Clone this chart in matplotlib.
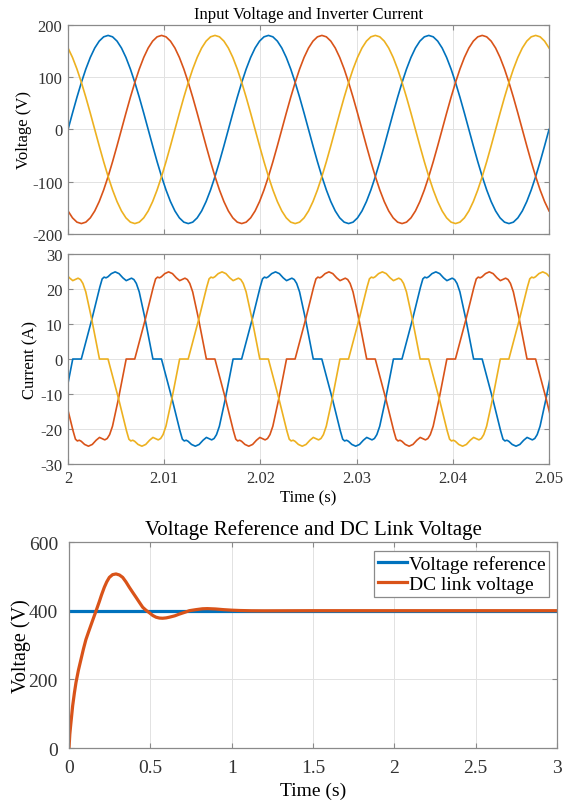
import matplotlib
matplotlib.use('Agg')
import matplotlib.pyplot as plt
import numpy as np

plt.rcParams['font.family'] = ['Liberation Serif', 'DejaVu Serif']
plt.rcParams['axes.unicode_minus'] = False

## Couleurs (MATLAB)
c_blue = '#0072BD'
c_orange = '#D95319'
c_yellow = '#EDB120'

## Données

period_ms = 1000.0 / 60.0     # 60 Hz
t_start, t_end = 2.0, 2.05

# phase A voltage over one period, every 10 degrees (V)
va_period = [0, 31.3, 61.6, 90, 115.7, 137.9, 155.9, 169.1, 177.3,
             180, 177.3, 169.1, 155.9, 137.9, 115.7, 90, 61.6, 31.3,
             0, -31.3, -61.6, -90, -115.7, -137.9, -155.9, -169.1, -177.3,
             -180, -177.3, -169.1, -155.9, -137.9, -115.7, -90, -61.6, -31.3]

# phase A current, positive lobe (ms after start of cycle, A)
ia_lobe_t = [0.49, 1.38, 2.5, 3.3, 3.55, 3.75, 3.95, 4.15, 4.5, 4.9,
             5.3, 5.7, 6.05, 6.35, 6.6, 6.85, 7.1, 7.4, 8.0, 8.82]
ia_lobe_v = [0, 0, 11.6, 20.5, 22.9, 23.4, 23.2, 23.5, 24.4, 24.9,
             24.4, 23.2, 22.4, 22.8, 23.1, 22.7, 21.6, 19.2, 11.6, 0]

# DC link voltage step response
dc_t = [0, 0.005, 0.010, 0.0225, 0.033, 0.043, 0.058, 0.074, 0.089, 0.104,
        0.120, 0.135, 0.150, 0.166, 0.186, 0.200, 0.217, 0.232, 0.248, 0.268,
        0.289, 0.310, 0.330, 0.350, 0.371, 0.392, 0.412, 0.433, 0.453, 0.474,
        0.494, 0.515, 0.535, 0.556, 0.576, 0.597, 0.617, 0.650, 0.678, 0.710,
        0.740, 0.78, 0.82, 0.85, 0.90, 0.95, 1.0, 1.05, 1.12, 1.2, 1.5, 3.0]
dc_v = [0, 40, 65, 123, 160, 191, 227, 259, 289, 316,
        338, 358, 378, 399, 426, 446, 468, 484, 497, 505,
        507, 504, 497, 484, 468, 453, 439, 424, 410, 401,
        394, 386, 381, 378.5, 378, 379, 381, 385, 390, 395,
        400, 403, 405.5, 406, 405, 403, 401.5, 400.5, 399.8, 399.6, 400, 400]
v_ref = 400

time_ticks = [2, 2.01, 2.02, 2.03, 2.04, 2.05]
time_labels = ['2', '2.01', '2.02', '2.03', '2.04', '2.05']
dc_ticks = [0, 0.5, 1, 1.5, 2, 2.5, 3]
dc_labels = ['0', '0.5', '1', '1.5', '2', '2.5', '3']


def style_axes(ax, fs, pad=4):
    ax.grid(True, color='#e2e2e2', linewidth=0.7)
    ax.set_axisbelow(True)
    for s in ax.spines.values():
        s.set_color('#8a8a8a')
        s.set_linewidth(0.9)
    ax.tick_params(direction='in', top=True, right=True, length=3.5,
                   width=0.8, color='#8a8a8a', labelsize=fs,
                   labelcolor='#333333', pad=pad)


## Tensions: 3 périodes + phases décalées de 120°
va = np.array(va_period)
n_per = len(va)
n_cyc = 3
t_v = np.linspace(t_start, t_end, n_per * n_cyc + 1)
v_phases = [np.roll(va, 0), np.roll(va, n_per // 3), np.roll(va, -n_per // 3)]

## Courants: lobe positif puis négatif, phases décalées de T/3
cyc_t = np.array(ia_lobe_t + [t + period_ms / 2 for t in ia_lobe_t])
cyc_i = np.array(ia_lobe_v + [-v for v in ia_lobe_v])


def current_phase(shift_ms):
    tt, ii = [], []
    for k in range(-2, 5):
        tt.append(cyc_t + shift_ms + k * period_ms)
        ii.append(cyc_i)
    return t_start + np.concatenate(tt) / 1000.0, np.concatenate(ii)


fig = plt.figure(figsize=(5.76, 8.04), dpi=100)

ax1 = fig.add_axes([0.1181, 0.7077, 0.8351, 0.2600])
ax2 = fig.add_axes([0.1181, 0.4216, 0.8351, 0.2612])
ax3 = fig.add_axes([0.1198, 0.0684, 0.8472, 0.2562])

colors = [c_blue, c_orange, c_yellow]
for v, c in zip(v_phases, colors):
    ax1.plot(t_v, np.append(np.tile(v, n_cyc), v[0]), color=c, lw=1.2)
ax1.set_xlim(t_start, t_end)
ax1.set_ylim(-200, 200)
ax1.set_yticks([-200, -100, 0, 100, 200])
ax1.set_xticks(time_ticks)
ax1.set_xticklabels([])
ax1.set_ylabel('Voltage (V)', fontsize=12, labelpad=0)
ax1.set_title('Input Voltage and Inverter Current', fontsize=12, pad=5)
style_axes(ax1, 12)

for shift, c in zip([0, period_ms / 3, -period_ms / 3], colors):
    ti, ii = current_phase(shift)
    ax2.plot(ti, ii, color=c, lw=1.2)
ax2.set_xlim(t_start, t_end)
ax2.set_ylim(-30, 30)
ax2.set_yticks([-30, -20, -10, 0, 10, 20, 30])
ax2.set_xticks(time_ticks)
ax2.set_xticklabels(time_labels)
ax2.set_ylabel('Current (A)', fontsize=12, labelpad=1)
ax2.set_xlabel('Time (s)', fontsize=12, labelpad=3)
style_axes(ax2, 12)

ax3.plot([0, 3], [v_ref, v_ref], color=c_blue, lw=2.3, label='Voltage reference')
ax3.plot(dc_t, dc_v, color=c_orange, lw=2.3, label='DC link voltage')
ax3.set_xlim(0, 3)
ax3.set_ylim(0, 600)
ax3.set_yticks([0, 200, 400, 600])
ax3.set_xticks(dc_ticks)
ax3.set_xticklabels(dc_labels)
ax3.set_ylabel('Voltage (V)', fontsize=14.5, labelpad=-2)
ax3.set_xlabel('Time (s)', fontsize=14, labelpad=4)
ax3.set_title('Voltage Reference and DC Link Voltage', fontsize=15, pad=6)
style_axes(ax3, 14, pad=8)
leg = ax3.legend(loc='upper right', bbox_to_anchor=(0.984, 0.957),
                 borderaxespad=0, fontsize=14, fancybox=False, framealpha=1,
                 edgecolor='#8a8a8a', handlelength=1.5, handletextpad=0.1,
                 labelspacing=0.15, borderpad=0.2)
leg.get_frame().set_linewidth(0.9)

fig.savefig('out.png', dpi=100)
